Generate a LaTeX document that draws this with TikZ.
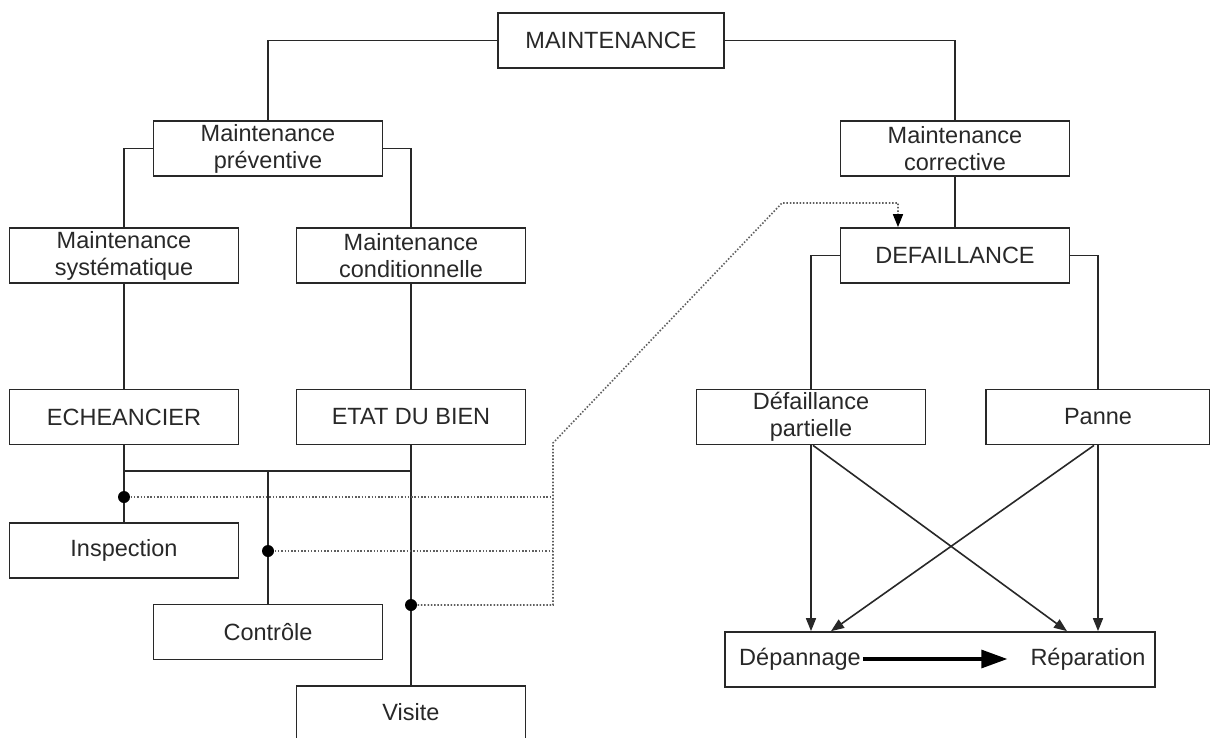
\documentclass[tikz,border=0pt]{standalone}
\usepackage{fontspec}
\setmainfont{Liberation Sans}
\usetikzlibrary{arrows.meta}
\definecolor{ln}{RGB}{40,40,40}
\definecolor{dt}{RGB}{95,95,95}
\newcommand\diagfs{\fontsize{23.5}{27}\selectfont}
\tikzset{
  box/.style={draw=ln, line width=1.7pt, minimum width=229pt, minimum height=55pt,
    inner sep=0pt, align=center, font=\diagfs, text=ln},
  lbl/.style={inner sep=2pt, font=\diagfs, text=ln},
  conn/.style={draw=ln, line width=1.6pt},
  arr/.style={draw=ln, line width=1.6pt, -{Triangle[length=13pt,width=10pt]}},
  dots/.style={draw=dt, line width=1.6pt, dash pattern=on 1.5pt off 1.8pt},
  jdot/.style={circle, fill=black, inner sep=0pt, minimum size=12pt}
}
\begin{document}
\begin{tikzpicture}[x=1pt,y=-1pt]
\useasboundingbox (0,0) rectangle (1210,738);
\clip (0,0) rectangle (1210,738);
\fill[white] (0,0) rectangle (1210,738);
% nodes
\node[box, minimum width=226pt] (main) at (611,40.5) {MAINTENANCE};
\node[box] (prev) at (268,148.5) {Maintenance\\préventive};
\node[box] (corr) at (955,148.5) {Maintenance\\corrective};
\node[box] (sys) at (124,255.5) {Maintenance\\systématique};
\node[box] (cond) at (411,255.5) {Maintenance\\conditionnelle};
\node[box] (def) at (955,255.5) {DEFAILLANCE};
\node[box] (ech) at (124,417) {ECHEANCIER};
\node[box] (etat) at (411,417) {ETAT DU BIEN};
\node[box] (part) at (811,417) {Défaillance\\partielle};
\node[box, minimum width=224pt] (pan) at (1098,417) {Panne};
\node[box] (insp) at (124,550.5) {Inspection};
\node[box] (ctrl) at (268,632) {Contrôle};
\node[box, minimum height=80pt, text depth=0pt] (vis) at (411,726) {};
\node[lbl] (vist) at (411,712) {Visite};
\node[box, minimum width=430pt] (rep) at (940,659.5) {};
\node[lbl] (dep) at (800,659) {Dépannage};
\node[lbl] (repa) at (1088,659) {Réparation};
% tree connectors
\draw[conn] (main.west) -| (prev.north);
\draw[conn] (main.east) -| (corr.north);
\draw[conn] (prev.west) -| (sys.north);
\draw[conn] (prev.east) -| (cond.north);
\draw[conn] (sys) -- (ech);
\draw[conn] (cond) -- (etat);
\draw[conn] (ech.south) -- (insp.north);
\draw[conn] (etat.south) -- (vis.north);
\coordinate (j1) at (124,471);
\coordinate (j2) at (268,471);
\coordinate (j3) at (411,471);
\draw[conn] (j1) -- (j3);
\draw[conn] (j2) -- (ctrl.north);
\draw[conn] (corr) -- (def);
\draw[conn] (def.west) -| (part.north);
\draw[conn] (def.east) -| (pan.north);
% dotted links
\coordinate (d1) at (124,497);
\coordinate (d2) at (268,551);
\coordinate (d3) at (411,605);
\coordinate (k1) at (553,497);
\coordinate (k2) at (553,551);
\coordinate (k3) at (553,605);
\coordinate (k4) at (553,443);
\coordinate (k5) at (782,203);
\coordinate (k6) at (898,203);
\draw[dots] (d1) -- (k1);
\draw[dots] (d2) -- (k2);
\draw[dots, -{Triangle[length=13pt,width=10pt,color=black]}] (d3) -- (k3) -- (k4) -- (k5) -- (k6) -- (k6 |- def.north);
\node[jdot] (n1) at (d1) {};
\node[jdot] (n2) at (d2) {};
\node[jdot] (n3) at (d3) {};
% arrows to repair box
\draw[arr] (part.south) -- (part.south |- rep.north);
\draw[arr] ([xshift=2pt]part.south) -- ([xshift=127pt]rep.north);
\draw[arr] ([xshift=-4pt]pan.south) -- ([xshift=-109pt]rep.north);
\draw[arr] (pan.south) -- (pan.south |- rep.north);
\draw[draw=black, line width=3.2pt, -{Triangle[length=26pt,width=18pt]}, shorten >=21pt] (dep.east) -- (repa.west);
\end{tikzpicture}
\end{document}
